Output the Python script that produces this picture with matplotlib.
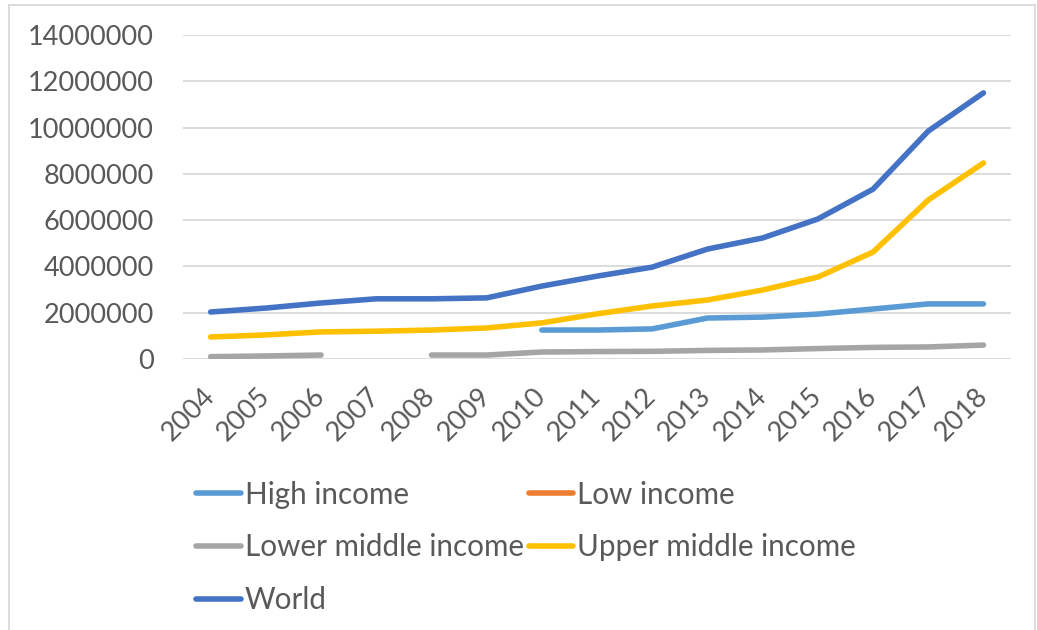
import numpy as np
import matplotlib.pyplot as plt
from matplotlib.patches import Rectangle

plt.rcParams['font.family'] = ['Lato', 'DejaVu Sans']

years = [str(y) for y in range(2004, 2019)]
nan = np.nan

# Series values per year (NaN where no data)
high_income = [nan, nan, nan, nan, nan, nan, 1250000, 1250000, 1300000, 1770000,
               1810000, 1940000, 2160000, 2380000, 2380000]
low_income = [nan] * 15
lower_middle = [100000, 130000, 170000, nan, 170000, 170000, 300000, 320000, 330000,
                370000, 390000, 450000, 500000, 520000, 600000]
upper_middle = [950000, 1040000, 1170000, 1200000, 1250000, 1340000, 1560000, 1950000,
                2290000, 2550000, 2980000, 3540000, 4620000, 6870000, 8470000]
world = [2030000, 2200000, 2420000, 2600000, 2600000, 2640000, 3150000, 3580000,
         3970000, 4750000, 5230000, 6050000, 7340000, 9850000, 11500000]

series = [
    ("High income", high_income, '#5B9BD5'),
    ("Low income", low_income, '#ED7D31'),
    ("Lower middle income", lower_middle, '#A5A5A5'),
    ("Upper middle income", upper_middle, '#FFC000'),
    ("World", world, '#4472C4'),
]

text_color = '#595959'
grid_color = '#D9D9D9'

fig = plt.figure(figsize=(10.37, 6.3), dpi=100)
ax = fig.add_axes([0.1765, 0.4302, 0.7985, 0.5142])

x = np.arange(len(years))
lines = {}
for name, vals, col in series:
    lines[name], = ax.plot(x, vals, color=col, lw=4, solid_capstyle='round', label=name)

ax.set_xlim(-0.5, len(years) - 0.5)
ax.set_ylim(0, 14000000)
ax.set_yticks(np.arange(0, 14000001, 2000000))
ax.set_yticklabels([str(v) for v in range(0, 14000001, 2000000)])
ax.set_xticks(x)
ax.set_xticklabels(years, rotation=45, ha='right', va='center', rotation_mode='anchor')

ax.grid(axis='y', color=grid_color, lw=1.3)
ax.set_axisbelow(True)
for s in ax.spines.values():
    s.set_visible(False)
ax.tick_params(axis='both', length=0, labelsize=19.5, colors=text_color)
ax.tick_params(axis='y', pad=21)
ax.tick_params(axis='x', pad=24)

# legend filled row by row: matplotlib fills columns first, so reorder
order = ["High income", "Lower middle income", "World", "Low income", "Upper middle income"]
leg = fig.legend([lines[n] for n in order], order, loc='upper left',
                 bbox_to_anchor=(0.178, 0.256), ncol=2, frameon=False,
                 fontsize=21.3, handlelength=1.5, handletextpad=0.14, columnspacing=0.17,
                 labelspacing=0.84, borderaxespad=0)
for t in leg.get_texts():
    t.set_color(text_color)

fig.patches.append(Rectangle((0.009, -0.01), 0.989, 1.002, transform=fig.transFigure,
                             fill=False, edgecolor=grid_color, lw=1.3))

fig.savefig('out.png', dpi=100)
